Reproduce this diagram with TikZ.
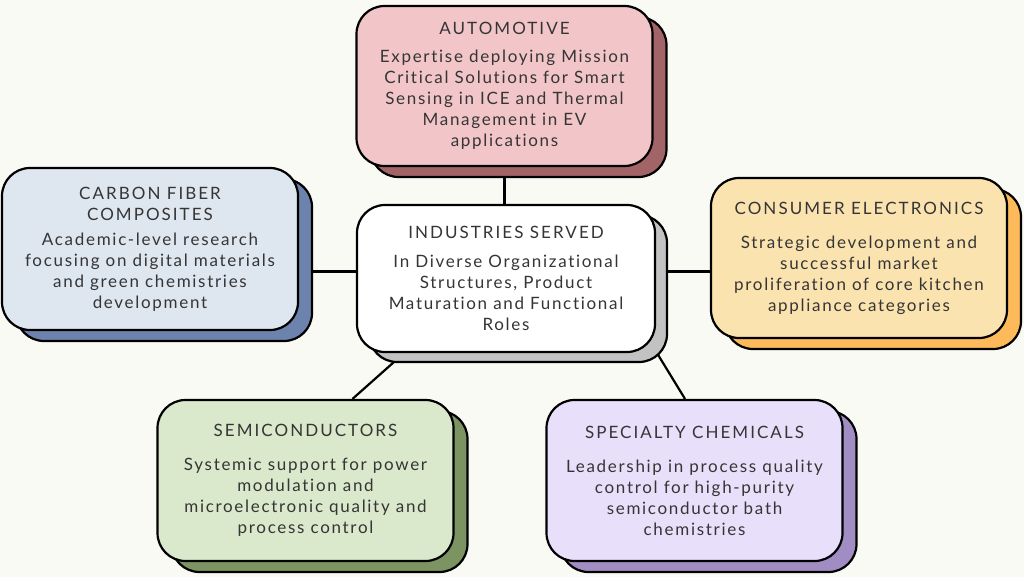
\documentclass[tikz,border=0pt]{standalone}
\usepackage{fontspec}
\usepackage{xcolor}
\newfontfamily\bodyf[LetterSpace=10,Ligatures=NoCommon]{Lato}
\newfontfamily\titlef[LetterSpace=12,Ligatures=NoCommon]{Lato}
\usetikzlibrary{positioning,shadows,backgrounds,calc}
\definecolor{paper}{HTML}{FAFAF5}
\definecolor{ink}{HTML}{353535}
\definecolor{autofill}{HTML}{F2C6C9}
\definecolor{autoshade}{HTML}{A36468}
\definecolor{carbonfill}{HTML}{DEE6F0}
\definecolor{carbonshade}{HTML}{6C83AE}
\definecolor{consumerfill}{HTML}{FBE3B0}
\definecolor{consumershade}{HTML}{FDBA5A}
\definecolor{semifill}{HTML}{DAE8CB}
\definecolor{semishade}{HTML}{7B9462}
\definecolor{chemfill}{HTML}{E8E0FB}
\definecolor{chemshade}{HTML}{A28CC4}
\definecolor{hubshade}{HTML}{C2C2C2}
\tikzset{
  card/.style={draw=black, line width=2.2pt, rounded corners=28pt,
    minimum width=296pt, minimum height=160pt, align=center, text=ink,
    font=\bodyf\fontsize{17}{21}\selectfont},
  backcard/.style={general shadow={shadow xshift=14pt, shadow yshift=-11pt,
    fill=#1, draw=black, line width=2.2pt}},
  link/.style={draw=black, line width=2.2pt}
}
\begin{document}
\begin{tikzpicture}[x=1pt,y=-1pt]
                        \useasboundingbox (0,0) rectangle (1024,577);
                        
                        % Drawing card automotive
                        \node [card, fill=autofill, backcard=autoshade] (auto) at (504.5,86)
                          {\titlef AUTOMOTIVE\\[7pt]
                           \bodyf Expertise deploying Mission\\ Critical Solutions for Smart\\
                           Sensing in ICE and Thermal\\ Management in EV\\ applications};%
                        
                        % Drawing card carbon
                        \node [card, fill=carbonfill, backcard=carbonshade, minimum height=162pt] (carbon) at (150,249)
                          {\titlef CARBON FIBER\\ \titlef COMPOSITES\\[4pt]
                           \bodyf Academic-level research\\ focusing on digital materials\\
                           and green chemistries\\ development};%
                        
                        % Drawing card hub
                        \node [card, fill=white, minimum width=298pt, minimum height=147pt,
                          general shadow={shadow xshift=12pt, shadow yshift=-10pt, fill=hubshade, draw=black, line width=2.2pt}] (hub) at (506,278.5)
                          {\titlef INDUSTRIES SERVED\\[8pt]
                           \bodyf In Diverse Organizational\\ Structures, Product\\
                           Maturation and Functional\\ Roles};%
                        
                        % Drawing card consumer
                        \node [card, fill=consumerfill, backcard=consumershade] (consumer) at (859,258)
                          {\titlef CONSUMER ELECTRONICS\\[13pt]
                           \bodyf Strategic development and\\ successful market\\
                           proliferation of core kitchen\\ appliance categories};%
                        
                        % Drawing card semi
                        \node [card, fill=semifill, backcard=semishade, minimum height=161pt] (semi) at (305.5,480.5)
                          {\titlef SEMICONDUCTORS\\[13pt]
                           \bodyf Systemic support for power\\ modulation and\\
                           microelectronic quality and\\ process control};%
                        
                        % Drawing card chem
                        \node [card, fill=chemfill, backcard=chemshade, minimum height=161pt] (chem) at (694.5,480.5)
                          {\titlef SPECIALTY CHEMICALS\\[13pt]
                           \bodyf Leadership in process quality\\ control for high-purity\\
                           semiconductor bath\\ chemistries};%
                        
                        \begin{scope}[on background layer]
                        % Drawing paper
                        \fill [paper] (0,0) rectangle (1024,577);%
                        
                        % Drawing links to hub
                        \draw [link] (auto.south) -- (auto.south |- hub.north);%
                        \draw [link] ([yshift=7pt]hub.west) -- ([yshift=7pt]hub.west -| carbon.east);%
                        \draw [link] ([yshift=7pt]hub.east) -- ([yshift=7pt]hub.east -| consumer.west);%
                        \draw [link] ([xshift=47pt]semi.north) -- ([xshift=-102pt]hub.south);%
                        \draw [link] ([xshift=-9.5pt]chem.north) -- ([xshift=151pt]hub.south);%
                        \end{scope}
                        \end{tikzpicture}
\end{document}
